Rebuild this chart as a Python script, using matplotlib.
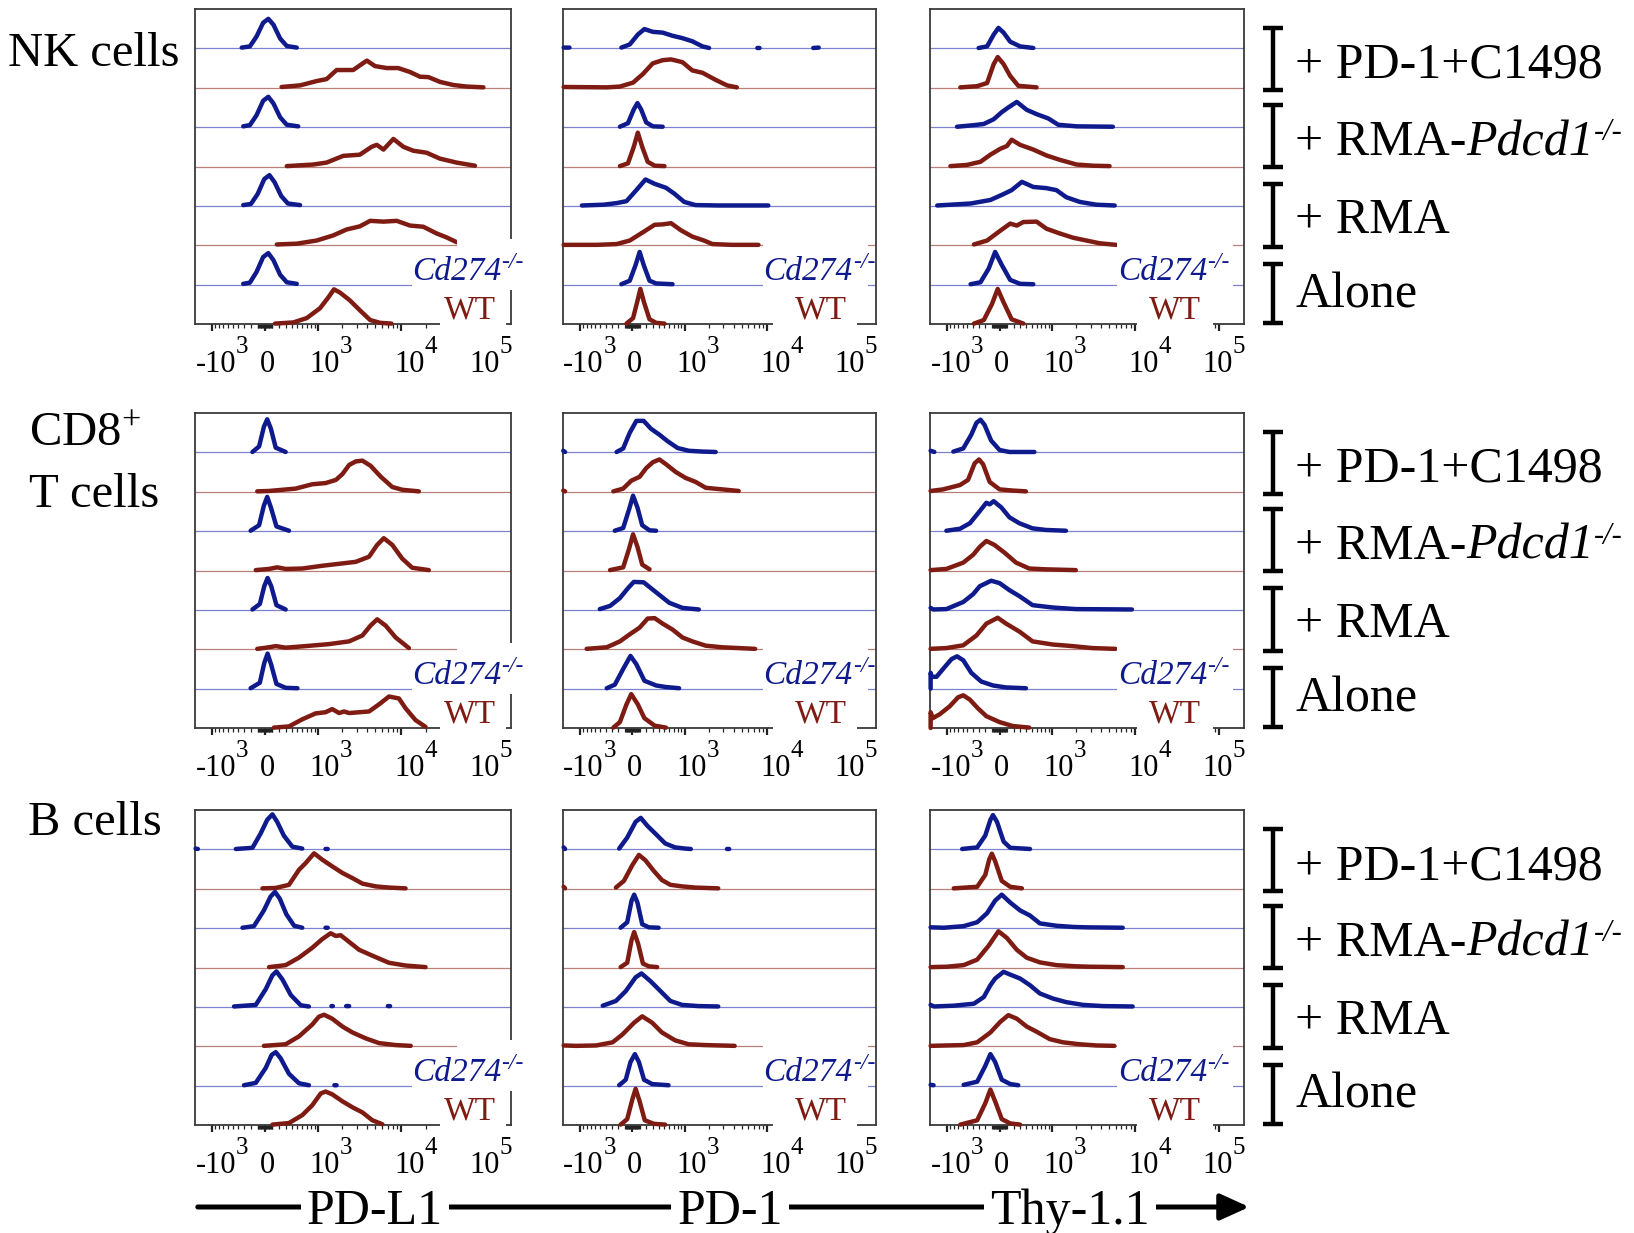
import numpy as np
import matplotlib
matplotlib.use("Agg")
import matplotlib.pyplot as plt
from matplotlib.patches import Rectangle, FancyArrowPatch
from matplotlib.transforms import blended_transform_factory

plt.rcParams["font.family"] = ["Liberation Serif", "DejaVu Serif"]
plt.rcParams["mathtext.fontset"] = "custom"
plt.rcParams["mathtext.rm"] = "Liberation Serif"
plt.rcParams["mathtext.it"] = "Liberation Serif:italic"

nan = np.nan
COFACTOR = 504.0  # arcsinh cofactor of the display scale

# ---- categories -----------------------------------------------------------
# text runs: (text, kind) with kind n = normal, i = italic, s = italic superscript
CELL_TYPES = ["NK cells", "CD8$^{+}$\nT cells", "B cells"]
MARKERS = ["PD-L1", "PD-1", "Thy-1.1"]
CONDITIONS = [[("+ PD-1+C1498", "n")],
              [("+ RMA-", "n"), ("Pdcd1", "i"), ("-/-", "s")],
              [("+ RMA", "n")],
              [("Alone", "n")]]
GENOTYPES = [[("Cd274", "i"), ("-/-", "s")], [("WT", "n")]]
MAJOR_TICKS = [-1e3, 0, 1e3, 1e4, 1e5]
MAJOR_LABELS = [("-10", "3"), ("0", ""), ("10", "3"), ("10", "4"), ("10", "5")]

# ---- histograms: (arcsinh(x/cofactor), height in lane units), top to bottom
# lane order: Cd274-/- & WT for +PD-1+C1498, +RMA-Pdcd1-/-, +RMA, Alone
NK_PDL1 = [
    ([-0.63, -0.41, -0.23, -0.05, 0.09, 0.23, 0.41, 0.59, 0.86],
     [0.02, 0.05, 0.3, 0.65, 0.75, 0.6, 0.25, 0.06, 0.02]),
    ([0.45, 0.95, 1.40, 1.67, 1.94, 2.39, 2.62, 2.76, 2.98, 3.30, 3.61, 3.93, 4.20, 4.43, 4.74, 5.10, 5.47, 5.92],
     [0.02, 0.06, 0.17, 0.22, 0.45, 0.45, 0.6, 0.69, 0.55, 0.5, 0.5, 0.4, 0.28, 0.27, 0.15, 0.07, 0.03, 0.01]),
    ([-0.59, -0.41, -0.23, -0.05, 0.09, 0.23, 0.41, 0.59, 0.90],
     [0.02, 0.05, 0.3, 0.67, 0.77, 0.6, 0.25, 0.06, 0.02]),
    ([0.59, 1.31, 1.67, 2.12, 2.57, 2.89, 3.03, 3.21, 3.48, 3.75, 4.02, 4.38, 4.74, 5.19, 5.69],
     [0.01, 0.05, 0.1, 0.27, 0.3, 0.5, 0.55, 0.43, 0.7, 0.5, 0.4, 0.35, 0.2, 0.1, 0.02]),
    ([-0.59, -0.38, -0.20, -0.02, 0.12, 0.26, 0.44, 0.62, 0.95],
     [0.02, 0.05, 0.3, 0.68, 0.78, 0.6, 0.25, 0.06, 0.02]),
    ([0.32, 0.86, 1.40, 1.85, 2.21, 2.57, 2.85, 3.21, 3.57, 3.93, 4.29, 4.65, 4.92, 5.19],
     [0.02, 0.04, 0.12, 0.25, 0.4, 0.48, 0.62, 0.6, 0.62, 0.5, 0.47, 0.3, 0.2, 0.08]),
    ([-0.59, -0.41, -0.23, -0.05, 0.09, 0.23, 0.41, 0.59, 0.86],
     [0.02, 0.05, 0.32, 0.7, 0.8, 0.62, 0.25, 0.06, 0.02]),
    ([0.27, 0.77, 1.13, 1.49, 1.72, 1.87, 2.03, 2.30, 2.57, 2.85, 3.12, 3.43],
     [0.01, 0.04, 0.15, 0.4, 0.68, 0.88, 0.8, 0.6, 0.35, 0.1, 0.03, 0.01]),
]

NK_PD1 = [
    ([-1.88, -1.72, nan, -0.30, -0.07, 0.15, 0.33, 0.56, 0.83, 1.10, 1.37, 1.64, 1.92, 2.10, nan, 3.42, 3.48, nan, 4.95, 5.10],
     [0.02, 0.02, nan, 0.02, 0.1, 0.35, 0.49, 0.42, 0.4, 0.32, 0.26, 0.18, 0.05, 0.01, nan, 0.01, 0.01, nan, 0.01, 0.02]),
    ([-1.88, -0.70, -0.34, 0.02, 0.29, 0.56, 0.83, 1.06, 1.37, 1.64, 1.92, 2.28, 2.59, 2.86],
     [0.02, 0.01, 0.03, 0.13, 0.35, 0.62, 0.7, 0.72, 0.65, 0.44, 0.38, 0.2, 0.06, 0.01]),
    ([-0.34, -0.12, 0.04, 0.14, 0.24, 0.38, 0.56, 0.83],
     [0.01, 0.1, 0.45, 0.61, 0.45, 0.12, 0.02, 0.01]),
    ([-0.34, -0.12, 0.04, 0.15, 0.27, 0.42, 0.61, 0.88],
     [0.01, 0.08, 0.5, 0.86, 0.5, 0.12, 0.02, 0.01]),
    ([-1.38, -0.79, -0.43, -0.16, 0.11, 0.36, 0.61, 0.92, 1.15, 1.42, 1.73, 2.37, 2.82, 3.72],
     [0.01, 0.03, 0.07, 0.12, 0.4, 0.67, 0.56, 0.46, 0.31, 0.1, 0.02, 0.01, 0.01, 0.01]),
    ([-1.88, -0.98, -0.43, -0.07, 0.29, 0.61, 0.83, 1.06, 1.33, 1.64, 1.96, 2.19, 2.73, 3.45],
     [0.01, 0.01, 0.03, 0.12, 0.33, 0.52, 0.53, 0.56, 0.38, 0.22, 0.12, 0.03, 0.01, 0.01]),
    ([-0.30, -0.07, 0.09, 0.20, 0.31, 0.47, 0.65, 1.10],
     [0.01, 0.1, 0.5, 0.83, 0.5, 0.1, 0.03, 0.01]),
    ([-0.16, 0.02, 0.13, 0.22, 0.32, 0.47, 0.65, 0.88],
     [0.01, 0.15, 0.55, 0.89, 0.55, 0.12, 0.03, 0.01]),
]

NK_THY = [
    ([-0.57, -0.34, -0.16, -0.03, 0.11, 0.29, 0.56, 0.92],
     [0.01, 0.05, 0.35, 0.52, 0.4, 0.17, 0.05, 0.01]),
    ([-1.07, -0.61, -0.34, -0.16, -0.05, 0.11, 0.29, 0.51, 1.01],
     [0.01, 0.04, 0.12, 0.6, 0.78, 0.6, 0.3, 0.05, 0.01]),
    ([-1.16, -0.70, -0.43, -0.16, 0.06, 0.24, 0.47, 0.74, 1.01, 1.33, 1.60, 2.10, 3.09],
     [0.01, 0.05, 0.08, 0.2, 0.38, 0.5, 0.64, 0.44, 0.33, 0.22, 0.06, 0.02, 0.01]),
    ([-1.34, -0.89, -0.52, -0.25, 0.02, 0.20, 0.33, 0.56, 0.92, 1.28, 1.64, 2.10, 2.55, 3.00],
     [0.01, 0.04, 0.12, 0.3, 0.45, 0.52, 0.68, 0.55, 0.43, 0.28, 0.17, 0.05, 0.02, 0.01]),
    ([-1.70, -0.79, -0.25, 0.11, 0.33, 0.61, 0.92, 1.28, 1.55, 1.82, 2.19, 2.64, 3.14],
     [0.01, 0.06, 0.15, 0.3, 0.4, 0.61, 0.48, 0.45, 0.4, 0.22, 0.1, 0.03, 0.01]),
    ([-0.70, -0.34, 0.02, 0.29, 0.47, 0.65, 1.01, 1.28, 1.64, 2.01, 2.37, 2.73, 3.18],
     [0.02, 0.12, 0.37, 0.55, 0.5, 0.59, 0.6, 0.42, 0.3, 0.19, 0.12, 0.05, 0.01]),
    ([-0.79, -0.52, -0.30, -0.12, 0.06, 0.29, 0.56, 0.92],
     [0.01, 0.06, 0.4, 0.83, 0.5, 0.12, 0.02, 0.01]),
    ([-0.70, -0.43, -0.21, -0.05, 0.11, 0.33, 0.65],
     [0.01, 0.1, 0.5, 0.89, 0.55, 0.12, 0.01]),
]

CD8_PDL1 = [
    ([-0.34, -0.16, -0.03, 0.06, 0.16, 0.29, 0.56],
     [0.01, 0.15, 0.65, 0.84, 0.6, 0.12, 0.01]),
    ([-0.21, 0.11, 0.83, 1.28, 1.64, 1.92, 2.10, 2.28, 2.46, 2.64, 2.86, 3.14, 3.45, 3.72, 4.17],
     [0.01, 0.02, 0.08, 0.19, 0.22, 0.3, 0.45, 0.68, 0.77, 0.79, 0.66, 0.38, 0.12, 0.05, 0.01]),
    ([-0.39, -0.16, -0.03, 0.06, 0.16, 0.31, 0.65],
     [0.01, 0.15, 0.65, 0.87, 0.6, 0.12, 0.01]),
    ([-0.25, 0.11, 0.33, 0.56, 1.01, 1.55, 2.01, 2.46, 2.82, 3.04, 3.22, 3.45, 3.72, 3.99, 4.44],
     [0.01, 0.04, 0.08, 0.04, 0.05, 0.12, 0.17, 0.22, 0.35, 0.65, 0.82, 0.65, 0.3, 0.07, 0.01]),
    ([-0.34, -0.14, -0.02, 0.07, 0.17, 0.31, 0.56],
     [0.01, 0.15, 0.6, 0.81, 0.6, 0.12, 0.01]),
    ([-0.21, 0.11, 0.29, 0.56, 1.10, 1.73, 2.28, 2.64, 2.86, 3.04, 3.27, 3.54, 3.90],
     [0.01, 0.05, 0.08, 0.04, 0.08, 0.13, 0.2, 0.35, 0.6, 0.76, 0.6, 0.3, 0.03]),
    ([-0.39, -0.14, -0.02, 0.07, 0.17, 0.31, 0.56, 0.88],
     [0.01, 0.15, 0.65, 0.89, 0.6, 0.12, 0.02, 0.01]),
    ([0.24, 0.65, 1.01, 1.37, 1.64, 1.82, 2.01, 2.14, 2.28, 2.82, 3.09, 3.36, 3.63, 3.81, 4.08, 4.35],
     [0.01, 0.04, 0.22, 0.37, 0.4, 0.48, 0.38, 0.42, 0.38, 0.42, 0.6, 0.8, 0.75, 0.5, 0.2, 0.03]),
]

CD8_PD1 = [
    ([-1.89, -1.84, nan, -0.43, -0.25, -0.07, 0.11, 0.31, 0.51, 0.74, 0.97, 1.24, 1.55, 1.92, 2.28],
     [0.04, 0.01, nan, 0.01, 0.1, 0.5, 0.8, 0.8, 0.6, 0.45, 0.28, 0.11, 0.04, 0.02, 0.01]),
    ([-1.89, -1.84, nan, -0.52, -0.25, -0.03, 0.20, 0.38, 0.56, 0.74, 0.92, 1.19, 1.46, 1.73, 2.01, 2.46, 2.91],
     [0.03, 0.01, nan, 0.01, 0.08, 0.28, 0.38, 0.6, 0.75, 0.82, 0.7, 0.5, 0.35, 0.25, 0.1, 0.06, 0.02]),
    ([-0.48, -0.25, -0.09, 0.02, 0.14, 0.27, 0.47, 0.65],
     [0.01, 0.08, 0.55, 0.9, 0.6, 0.15, 0.02, 0.01]),
    ([-0.61, -0.25, -0.09, 0.02, 0.14, 0.27, 0.47],
     [0.01, 0.08, 0.55, 0.92, 0.6, 0.15, 0.03]),
    ([-0.89, -0.61, -0.34, -0.12, 0.04, 0.31, 0.51, 0.74, 1.01, 1.37, 1.82],
     [0.02, 0.1, 0.3, 0.55, 0.71, 0.7, 0.55, 0.38, 0.18, 0.05, 0.01]),
    ([-1.25, -0.70, -0.34, -0.07, 0.20, 0.42, 0.61, 0.83, 1.10, 1.37, 1.64, 2.01, 2.46, 2.91, 3.36],
     [0.01, 0.05, 0.2, 0.38, 0.55, 0.78, 0.79, 0.65, 0.5, 0.3, 0.2, 0.09, 0.05, 0.03, 0.01]),
    ([-0.70, -0.48, -0.25, -0.05, 0.11, 0.33, 0.65, 0.92, 1.28],
     [0.01, 0.1, 0.5, 0.83, 0.62, 0.2, 0.08, 0.04, 0.01]),
    ([-0.52, -0.34, -0.16, -0.03, 0.15, 0.33, 0.61, 0.92],
     [0.01, 0.15, 0.6, 0.86, 0.6, 0.25, 0.06, 0.01]),
]

CD8_THY = [
    ([-1.88, -1.78, nan, -1.26, -0.99, -0.77, -0.63, -0.52, -0.41, -0.23, 0.0, 0.27, 0.95],
     [0.04, 0.01, nan, 0.02, 0.1, 0.45, 0.75, 0.83, 0.7, 0.3, 0.06, 0.01, 0.01]),
    ([-1.88, -1.54, -1.08, -0.86, -0.68, -0.56, -0.45, -0.27, 0.0, 0.36, 0.72],
     [0.02, 0.06, 0.17, 0.3, 0.72, 0.82, 0.7, 0.25, 0.06, 0.03, 0.01]),
    ([-1.45, -1.08, -0.81, -0.59, -0.36, -0.27, -0.16, 0.05, 0.27, 0.54, 0.90, 1.26, 1.81],
     [0.01, 0.06, 0.2, 0.45, 0.72, 0.68, 0.76, 0.6, 0.35, 0.2, 0.07, 0.03, 0.01]),
    ([-1.88, -1.45, -0.99, -0.72, -0.54, -0.36, -0.14, 0.14, 0.45, 0.81, 1.26, 2.08],
     [0.01, 0.04, 0.2, 0.4, 0.6, 0.75, 0.65, 0.45, 0.2, 0.05, 0.03, 0.01]),
    ([-1.88, -1.81, -1.45, -0.99, -0.72, -0.54, -0.23, 0.0, 0.27, 0.54, 0.90, 1.45, 2.08, 3.61],
     [0.05, 0.01, 0.02, 0.2, 0.4, 0.6, 0.74, 0.68, 0.5, 0.35, 0.12, 0.06, 0.02, 0.01]),
    ([-1.88, -1.45, -0.99, -0.63, -0.36, -0.05, 0.18, 0.54, 0.90, 1.45, 1.99, 2.53, 3.16],
     [0.01, 0.03, 0.1, 0.35, 0.65, 0.8, 0.65, 0.45, 0.2, 0.12, 0.08, 0.03, 0.01]),
    ([-1.88, -1.88, -1.85, -1.72, -1.54, -1.31, -1.16, -0.99, -0.77, -0.50, -0.18, 0.18, 0.72],
     [0.0, 0.4, 0.3, 0.3, 0.5, 0.75, 0.82, 0.72, 0.4, 0.18, 0.08, 0.03, 0.01]),
    ([-1.88, -1.88, -1.82, -1.63, -1.36, -1.13, -0.99, -0.81, -0.59, -0.36, 0.0, 0.36, 0.81],
     [0.0, 0.4, 0.25, 0.35, 0.55, 0.78, 0.83, 0.72, 0.5, 0.3, 0.15, 0.05, 0.01]),
]

B_PDL1 = [
    ([-1.88, -1.82, nan, -0.79, -0.34, -0.12, 0.06, 0.20, 0.33, 0.51, 0.74, 1.01, nan, 1.64, 1.70],
     [0.02, 0.01, nan, 0.01, 0.04, 0.4, 0.75, 0.89, 0.7, 0.35, 0.07, 0.02, nan, 0.01, 0.01]),
    ([-0.07, 0.29, 0.65, 0.92, 1.10, 1.33, 1.55, 1.82, 2.10, 2.37, 2.64, 3.00, 3.36, 3.81],
     [0.01, 0.02, 0.1, 0.48, 0.65, 0.9, 0.74, 0.57, 0.4, 0.27, 0.13, 0.06, 0.03, 0.01]),
    ([-0.61, -0.30, -0.03, 0.15, 0.27, 0.40, 0.58, 0.79, 1.01, nan, 1.64, 1.70],
     [0.01, 0.05, 0.45, 0.8, 0.92, 0.75, 0.35, 0.06, 0.01, nan, 0.01, 0.01]),
    ([0.11, 0.56, 0.92, 1.28, 1.55, 1.78, 1.92, 2.05, 2.28, 2.55, 2.91, 3.36, 3.81, 4.35],
     [0.01, 0.06, 0.25, 0.5, 0.72, 0.87, 0.8, 0.82, 0.65, 0.45, 0.3, 0.12, 0.05, 0.01]),
    ([-0.84, -0.25, 0.02, 0.20, 0.31, 0.47, 0.70, 0.97, 1.19, nan, 1.80, 1.84, nan, 2.20, 2.28, nan, 3.33, 3.39],
     [0.01, 0.05, 0.45, 0.8, 0.9, 0.7, 0.3, 0.04, 0.01, nan, 0.02, 0.02, nan, 0.02, 0.02, nan, 0.02, 0.02]),
    ([-0.03, 0.56, 0.92, 1.28, 1.46, 1.60, 1.82, 2.10, 2.37, 2.73, 3.09, 3.54, 3.95],
     [0.01, 0.05, 0.25, 0.55, 0.75, 0.8, 0.7, 0.5, 0.35, 0.2, 0.08, 0.03, 0.01]),
    ([-0.57, -0.25, 0.02, 0.18, 0.29, 0.42, 0.65, 0.92, 1.19, nan, 1.88, 1.94],
     [0.01, 0.07, 0.45, 0.78, 0.85, 0.7, 0.3, 0.06, 0.01, nan, 0.01, 0.01]),
    ([0.20, 0.65, 1.01, 1.28, 1.51, 1.64, 1.82, 2.10, 2.37, 2.64, 2.91, 3.18],
     [0.01, 0.05, 0.25, 0.5, 0.8, 0.85, 0.78, 0.6, 0.45, 0.32, 0.12, 0.02]),
]

B_PD1 = [
    ([-1.88, -1.84, nan, -0.36, -0.14, 0.09, 0.23, 0.41, 0.63, 0.90, 1.17, 1.45, 1.60, nan, 2.59, 2.65],
     [0.05, 0.01, nan, 0.02, 0.3, 0.7, 0.8, 0.6, 0.4, 0.15, 0.05, 0.02, 0.01, nan, 0.01, 0.01]),
    ([-1.88, -1.84, nan, -0.45, -0.23, 0.0, 0.18, 0.36, 0.59, 0.81, 1.04, 1.36, 1.72, 2.35],
     [0.05, 0.01, nan, 0.03, 0.2, 0.6, 0.86, 0.72, 0.45, 0.22, 0.1, 0.06, 0.03, 0.01]),
    ([-0.32, -0.14, -0.02, 0.05, 0.14, 0.27, 0.45, 0.72],
     [0.01, 0.15, 0.7, 0.85, 0.65, 0.1, 0.02, 0.01]),
    ([-0.32, -0.14, -0.02, 0.05, 0.16, 0.29, 0.45, 0.68],
     [0.01, 0.12, 0.7, 0.9, 0.6, 0.1, 0.03, 0.01]),
    ([-0.81, -0.45, -0.18, 0.09, 0.25, 0.50, 0.77, 1.04, 1.36, 1.81, 2.35],
     [0.03, 0.15, 0.4, 0.75, 0.85, 0.65, 0.4, 0.15, 0.05, 0.02, 0.01]),
    ([-1.88, -1.54, -0.99, -0.54, -0.27, 0.05, 0.27, 0.54, 0.81, 1.17, 1.54, 1.99, 2.80],
     [0.02, 0.01, 0.02, 0.1, 0.3, 0.6, 0.76, 0.6, 0.35, 0.15, 0.05, 0.03, 0.01]),
    ([-0.36, -0.18, -0.05, 0.07, 0.18, 0.32, 0.54, 0.99],
     [0.01, 0.15, 0.6, 0.8, 0.6, 0.15, 0.04, 0.01]),
    ([-0.32, -0.14, 0.0, 0.09, 0.20, 0.34, 0.59, 0.90],
     [0.01, 0.15, 0.65, 0.92, 0.6, 0.12, 0.03, 0.01]),
]

B_THY = [
    ([-1.02, -0.61, -0.39, -0.25, -0.18, -0.07, 0.11, 0.29, 0.83],
     [0.01, 0.05, 0.35, 0.75, 0.87, 0.7, 0.2, 0.04, 0.01]),
    ([-1.25, -0.61, -0.39, -0.28, -0.21, -0.12, 0.06, 0.29, 0.61],
     [0.01, 0.05, 0.35, 0.75, 0.89, 0.7, 0.2, 0.05, 0.01]),
    ([-1.88, -1.52, -0.98, -0.61, -0.34, -0.12, 0.06, 0.29, 0.56, 0.83, 1.10, 1.55, 2.01, 2.37, 3.36],
     [0.02, 0.01, 0.05, 0.15, 0.38, 0.7, 0.85, 0.65, 0.45, 0.32, 0.12, 0.06, 0.03, 0.02, 0.01]),
    ([-1.88, -1.43, -0.98, -0.61, -0.30, -0.03, 0.20, 0.47, 0.74, 1.10, 1.55, 2.10, 2.46, 3.36],
     [0.01, 0.02, 0.06, 0.2, 0.55, 0.92, 0.75, 0.45, 0.25, 0.13, 0.06, 0.03, 0.02, 0.01]),
    ([-1.88, -1.79, -1.25, -0.70, -0.43, -0.25, -0.12, 0.11, 0.29, 0.56, 0.83, 1.10, 1.46, 1.82, 2.28, 2.82, 3.63],
     [0.05, 0.01, 0.03, 0.08, 0.25, 0.55, 0.72, 0.89, 0.82, 0.72, 0.55, 0.34, 0.21, 0.12, 0.05, 0.02, 0.01]),
    ([-1.88, -0.98, -0.61, -0.25, 0.02, 0.24, 0.47, 0.74, 1.01, 1.37, 1.73, 2.19, 2.64, 3.13],
     [0.01, 0.03, 0.1, 0.35, 0.62, 0.79, 0.7, 0.5, 0.37, 0.18, 0.1, 0.05, 0.02, 0.01]),
    ([-1.88, -1.80, nan, -0.98, -0.61, -0.39, -0.25, -0.12, 0.06, 0.29, 0.51],
     [0.02, 0.01, nan, 0.02, 0.1, 0.5, 0.8, 0.6, 0.15, 0.04, 0.01]),
    ([-1.07, -0.61, -0.39, -0.25, -0.12, 0.06, 0.29, 0.56],
     [0.01, 0.12, 0.55, 0.9, 0.6, 0.15, 0.04, 0.01]),
]

PANELS = [[NK_PDL1, NK_PD1, NK_THY],
          [CD8_PDL1, CD8_PD1, CD8_THY],
          [B_PDL1, B_PD1, B_THY]]

# ---- colours and layout (pixels of a 1634 x 1233 canvas) -------------------
BLUE, BLUE_THIN = "#0f1a8c", "#7c82d0"
RED, RED_THIN = "#7e1c13", "#b9807a"
W, H = 1634, 1233
COL_LEFT = [195, 563, 930]
COL_WIDTH = [316, 313, 314]
ROW_TOP = [9, 413, 810]
PANEL_H = 315
XLIM = (-1.897, 6.667)

CD_RIGHT = [1.04, 0.997, 0.955]   # right end of the Cd274-/- label (axes x)
WT_CENTER = [0.87, 0.825, 0.78]
LABEL_BOXES = [
    [(0.687, 1.05, 0.86, 1.95), (0.83, 1.05, 1.95, 2.15), (0.775, 0.985, -0.2, 0.8)],
    [(0.64, 0.975, 0.86, 2.15), (0.67, 0.94, -0.2, 0.8)],
    [(0.595, 0.965, 0.86, 2.15), (0.66, 0.90, -0.2, 0.8)],
]
TICK_SHIFT_PX = [10, 2, 13, 15, 5]

minor = np.concatenate([-np.arange(100, 1000, 100), -np.arange(10, 100, 10),
                        np.arange(10, 100, 10), np.arange(100, 1000, 100),
                        np.arange(2000, 10000, 1000), np.arange(20000, 100000, 10000)])


def fx(px):
    return px / W


def fy(py):
    return 1 - py / H


fig = plt.figure(figsize=(W / 100, H / 100), dpi=100)
fig.patch.set_facecolor("white")
renderer = fig.canvas.get_renderer()


def text_run(pieces, x, y, align="left", color="black"):
    """Draw consecutive text pieces (text, size, style, rise_px) on one baseline."""
    arts, cur = [], x
    for s, size, style, rise in pieces:
        t = fig.text(fx(cur), fy(y - rise), s, fontsize=size, style=style, color=color,
                     ha="left", va="baseline", zorder=6)
        cur = t.get_window_extent(renderer).x1
        arts.append(t)
    shift = {"left": 0.0, "center": -(cur - x) / 2, "right": -(cur - x)}[align]
    for t in arts:
        t.set_x(t.get_position()[0] + shift / W)
    return arts


def styled(runs, size, sup_size, rise):
    kinds = {"n": (size, "normal", 0), "i": (size, "italic", 0), "s": (sup_size, "italic", rise)}
    return [(s,) + kinds[k] for s, k in runs]


for r in range(3):
    for c in range(3):
        ax = fig.add_axes([fx(COL_LEFT[c]), fy(ROW_TOP[r] + PANEL_H),
                           COL_WIDTH[c] / W, PANEL_H / H])
        for i, (v, h) in enumerate(PANELS[r][c]):
            base = 7 - i
            blue = i % 2 == 0
            ax.axhline(base, color=BLUE_THIN if blue else RED_THIN, lw=0.9, zorder=2)
            ax.plot(v, base + np.asarray(h, dtype=float), color=BLUE if blue else RED,
                    lw=3.2, solid_joinstyle="round", solid_capstyle="round",
                    zorder=3, clip_on=False)
        ax.set_xlim(*XLIM)
        ax.set_ylim(0, 8)
        ax.set_yticks([])
        major_pos = np.arcsinh(np.array(MAJOR_TICKS) / COFACTOR)
        ax.set_xticks(major_pos)
        ax.set_xticklabels([])
        ax.set_xticks(np.arcsinh(minor / COFACTOR), minor=True)
        ax.tick_params(axis="x", which="major", length=5, width=1.6, color="#222222")
        ax.tick_params(axis="x", which="minor", length=3, width=0.9, color="#222222")
        for s in ax.spines.values():
            s.set_linewidth(1.3)
            s.set_color("#3a3a3a")

        # tick labels: base number with a raised exponent
        label_base = ROW_TOP[r] + PANEL_H + 48
        for pos, (num, exp), dx in zip(major_pos, MAJOR_LABELS, TICK_SHIFT_PX):
            px = ax.transData.transform((pos, 0))[0] + dx
            pieces = [(num, 22, "normal", 0)]
            if exp:
                pieces.append((exp, 18, "normal", 19))
            text_run(pieces, px, label_base, align="center")

        # white patches behind the genotype labels
        tr = blended_transform_factory(ax.transAxes, ax.transData)
        for x0, x1, y0, y1 in LABEL_BOXES[c]:
            ax.add_patch(Rectangle((x0, y0), x1 - x0, y1 - y0, transform=tr,
                                   facecolor="white", edgecolor="none",
                                   zorder=4, clip_on=False))
        lane_px = PANEL_H / 8
        text_run(styled(GENOTYPES[0], 24, 17, 12),
                 COL_LEFT[c] + CD_RIGHT[c] * COL_WIDTH[c],
                 ROW_TOP[r] + (8 - 1.12) * lane_px, align="right", color=BLUE)
        text_run(styled(GENOTYPES[1], 24, 17, 12),
                 COL_LEFT[c] + WT_CENTER[c] * COL_WIDTH[c],
                 ROW_TOP[r] + (8 - 0.14) * lane_px, align="center", color=RED)

    # condition brackets on the right of each row
    top = ROW_TOP[r]
    spans = [(19, 81), (96, 158), (175, 238), (255, 314)]
    baselines = [69, 146, 224, 298]
    xb, half = 1273, 10
    for k, cond in enumerate(CONDITIONS):
        y0, y1 = top + spans[k][0], top + spans[k][1]
        kw = dict(color="black", lw=3.2, solid_capstyle="butt")
        fig.add_artist(plt.Line2D([fx(xb), fx(xb)], [fy(y0 - 1.5), fy(y1 + 1.5)], **kw))
        fig.add_artist(plt.Line2D([fx(xb - half), fx(xb + half)], [fy(y0), fy(y0)], **kw))
        fig.add_artist(plt.Line2D([fx(xb - half), fx(xb + half)], [fy(y1), fy(y1)], **kw))
        text_run(styled(cond, 36, 22, 15), 1295, top + baselines[k])

# cell type labels on the left
left_spots = [[(8, 66)], [(29, 446), (29, 507)], [(28, 835)]]
for name, spots in zip(CELL_TYPES, left_spots):
    for line, (px, py) in zip(name.split("\n"), spots):
        fig.text(fx(px), fy(py), line, fontsize=35, ha="left", va="baseline")

# marker axis with arrow along the bottom
fig.add_artist(FancyArrowPatch((fx(195), fy(1207)), (fx(1252), fy(1207)),
                               transform=fig.transFigure,
                               arrowstyle="-|>,head_length=1.1,head_width=0.5",
                               mutation_scale=16, lw=3.6, color="black"))
for name, cx in zip(MARKERS, [375, 730, 1070]):
    fig.text(fx(cx), fy(1224), name, fontsize=36, ha="center", va="baseline",
             bbox=dict(boxstyle="square,pad=0.12", facecolor="white", edgecolor="none"))

fig.savefig("out.png", dpi=100)
